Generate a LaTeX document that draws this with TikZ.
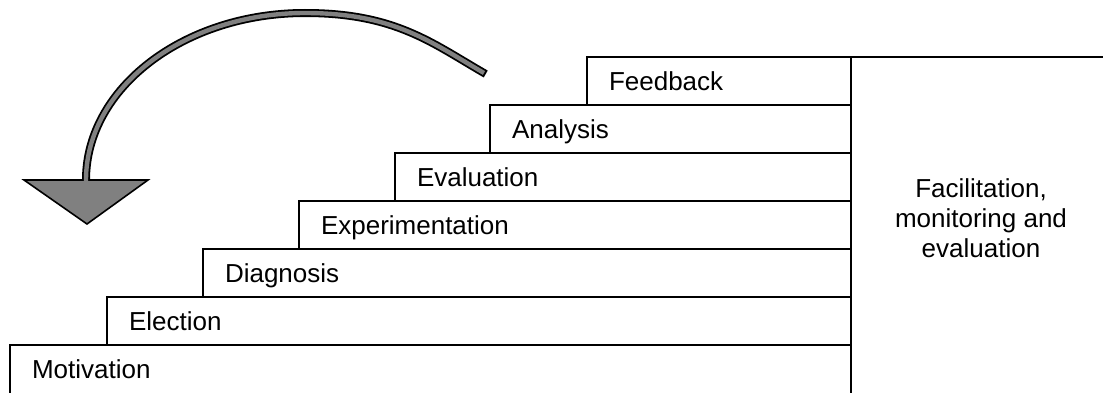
\documentclass[tikz,border=0pt]{standalone}
\usepackage{fontspec}
\setmainfont{Liberation Sans}
\newcommand\stairfont{\fontsize{26pt}{30pt}\selectfont}
\definecolor{arrowgray}{HTML}{808080}
\tikzset{
  stairbox/.style={draw, line width=2pt, rectangle, anchor=south west,
    minimum height=48pt, inner xsep=22pt, inner ysep=0pt,
    text height=18.6pt, text depth=0pt, align=left, font=\stairfont},
  sidebox/.style={draw, line width=2pt, rectangle, anchor=south west, inner sep=0pt},
  sidetext/.style={align=center, font=\stairfont, inner sep=0pt},
}
\begin{document}
\begin{tikzpicture}[x=1pt,y=1pt]
\useasboundingbox (0,0) rectangle (1103,392);

% column on the right, open towards the page edges
\node[sidebox, minimum width=280pt, minimum height=350pt] (side) at (850,-16) {};
\node[sidetext] (sidelabel) at (981,174) {Facilitation,\\monitoring and\\evaluation};

% the staircase, one step per stage, all ending at x = 850;
% the lowest step runs off the bottom edge of the page
\node[stairbox, text width=797pt, minimum height=56pt, text depth=8pt] (motivation) at (9,-10) {Motivation};
\node[stairbox, text width=700pt] (election)        at (106,46) {Election};
\node[stairbox, text width=604pt] (diagnosis)       at (202,94) {Diagnosis};
\node[stairbox, text width=508pt] (experimentation) at (298,142) {Experimentation};
\node[stairbox, text width=412pt] (evaluation)      at (394,190) {Evaluation};
\node[stairbox, text width=317pt] (analysis)        at (489,238) {Analysis};
\node[stairbox, text width=220pt] (feedback)        at (586,286) {Feedback};

% curved return arrow: outline, head, then the grey core
\coordinate (shaftfoot) at (86,212);
\coordinate (shafttop)  at (305,379);
\coordinate (shaftend)  at (484,319);
\draw[line width=8pt, black]
  (shaftfoot) .. controls (86,304) and (184,379) .. (shafttop)
              .. controls (395,379) and (432,349) .. (shaftend) -- ++(-30:2);
\filldraw[fill=arrowgray, draw=black, line width=1.6pt, line join=miter]
  (24,212) -- (148,212) -- (87,168) -- cycle;
\draw[line width=4.4pt, arrowgray]
  (86,208) -- (shaftfoot) .. controls (86,304) and (184,379) .. (shafttop)
              .. controls (395,379) and (432,349) .. (shaftend);
\end{tikzpicture}
\end{document}
